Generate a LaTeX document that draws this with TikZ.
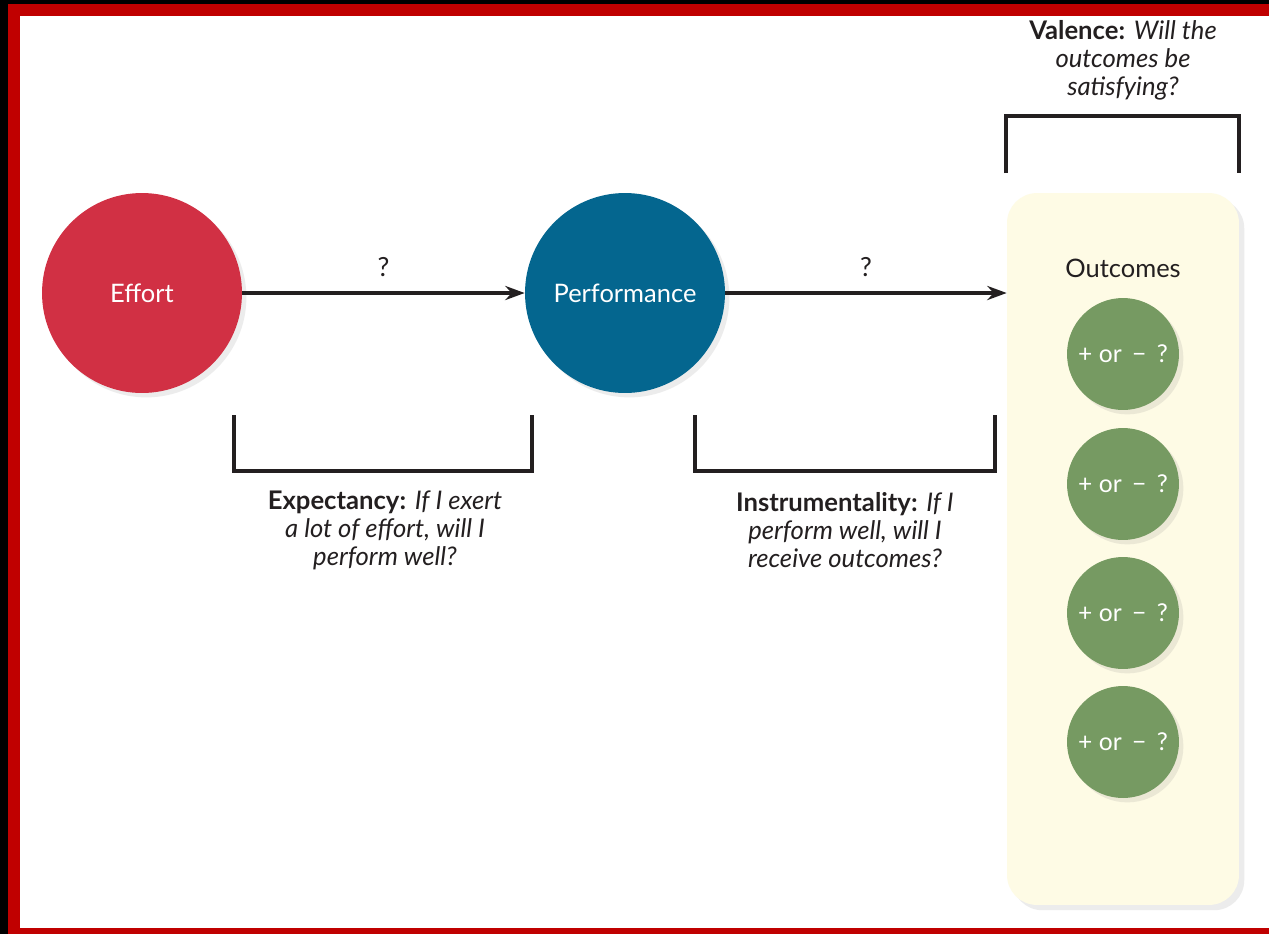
\documentclass[tikz,border=0pt]{standalone}
\usepackage{fontspec}
\setmainfont{Lato}
\usepackage{tikz}
\usepackage{xcolor}
\usetikzlibrary{arrows.meta,positioning,shadows}
\definecolor{frame}    {HTML}{C00000}
\definecolor{ink}      {HTML}{231F20}
\definecolor{effortred}{HTML}{D13044}
\definecolor{perfblue} {HTML}{04668F}
\definecolor{outgreen} {HTML}{769A62}
\definecolor{cream}    {HTML}{FEFBE5}
\tikzset{
  bubble/.style={circle,draw=none,minimum size=4cm,text=white,
                 font=\fontsize{14.5}{17}\selectfont,
                 drop shadow={opacity=0.15,shadow xshift=2.5pt,shadow yshift=-2.5pt}},
  signbubble/.style={bubble,fill=outgreen,minimum size=2.24cm,
                 font=\fontsize{14}{17}\selectfont},
  link/.style={draw=ink,line width=2pt,-{Stealth[length=11pt,width=8pt]}},
  brace/.style={draw=ink,line width=2pt},
  caption/.style={align=center,text=ink,font=\fontsize{14.6}{15.9}\selectfont}
}
\begin{document}
\begin{tikzpicture}[x=0.02cm,y=-0.02cm]
  % frame
  \fill[black] (0,0) rectangle (1269,934);
  \fill[frame] (8,4) rectangle (1269,934);
  \fill[white] (20,16) rectangle (1269,928);
  \useasboundingbox (0,0) rectangle (1269,934);

  % outcomes panel
  \node[draw=none,fill=cream,rounded corners=0.6cm,
        minimum width=4.64cm,minimum height=14.24cm,
        drop shadow={opacity=0.15,shadow xshift=3pt,shadow yshift=-3pt}]
        (outbox) at (1123,549) {};
  \node[text=ink,font=\fontsize{14.5}{17}\selectfont] (outtitle) at (1123,268) {Outcomes};
  \foreach \y [count=\i] in {354,484,613,742}
    \node[signbubble] (sign\i) at (1123,\y) {+ or \,−\, ?};

  % main chain
  \node[bubble,fill=effortred] (effort) at (142,293) {Effort};
  \node[bubble,fill=perfblue]  (perf)   at (625,293) {Performance};
  \draw[link] (effort) -- node[above=5pt,text=ink,font=\fontsize{15}{17}\selectfont] (q1) {?} (perf);
  \draw[link] (perf) -- node[above=5pt,text=ink,font=\fontsize{15}{17}\selectfont] (q2) {?} (perf.east -| outbox.west);

  % brackets
  \draw[brace] (234,415) -- (234,471) -- (532,471) -- (532,415);
  \draw[brace] (695,415) -- (695,471) -- (995,471) -- (995,415);
  \draw[brace] (1006,173) -- (1006,116) -- (1239,116) -- (1239,173);

  % captions
  \node[caption] (expect) at (385,530)
    {\textbf{Expectancy:} \textit{If I exert}\\ \textit{a lot of effort, will I}\\ \textit{perform well?}};
  \node[caption] (instr) at (845,530)
    {\textbf{Instrumentality:} \textit{If I}\\ \textit{perform well, will I}\\ \textit{receive outcomes?}};
  \node[caption] (valence) at (1123,60)
    {\textbf{Valence:} \textit{Will the}\\ \textit{outcomes be}\\ \textit{satisfying?}};
\end{tikzpicture}
\end{document}
